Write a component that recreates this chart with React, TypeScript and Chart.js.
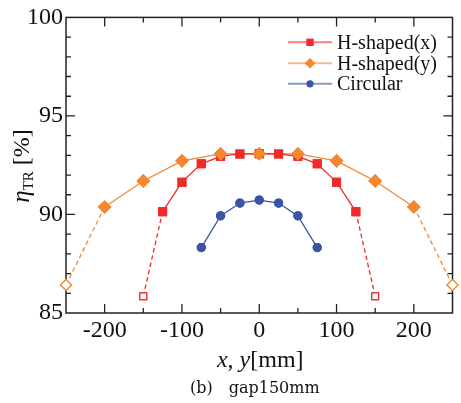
import React, { useEffect, useRef } from 'react';
import { Chart, registerables } from 'chart.js';

Chart.register(...registerables);

// ---- data ----
const hxX = [-150, -125, -100, -75, -50, -25, 0, 25, 50, 75, 100, 125, 150];
const hxY = [85.85, 90.14, 91.64, 92.57, 92.95, 93.07, 93.08, 93.07, 92.95, 92.57, 91.64, 90.14, 85.85];
const hyX = [-250, -200, -150, -100, -50, 0, 50, 100, 150, 200, 250];
const hyY = [86.42, 90.38, 91.7, 92.72, 93.07, 93.08, 93.07, 92.72, 91.7, 90.38, 86.42];
const ciX = [-75, -50, -25, 0, 25, 50, 75];
const ciY = [88.32, 89.93, 90.58, 90.73, 90.58, 89.93, 88.32];

const seriesLabels = ['H-shaped(x)', 'H-shaped(y)', 'Circular'];
const xMajorTicks = [-200, -100, 0, 100, 200];
const xMinorTicks = [-150, -50, 50, 150];
const yLabelTicks = [85, 90, 95, 100];
const yMajorTicks = [90, 95];
const yMinorTicks = [86, 87, 88, 89, 91, 92, 93, 94, 96, 97, 98, 99];

const RED = '#ee2a2b';
const ORANGE = '#f5872e';
const BLUE = '#3a55a6';
const SERIF = "'Liberation Serif', 'Times New Roman', serif";

function drawMarker(ctx: CanvasRenderingContext2D, style: string, x: number, y: number, r: number, color: string) {
  ctx.save();
  ctx.fillStyle = color;
  ctx.beginPath();
  if (style === 'rect') {
    const s = r * Math.SQRT1_2;
    ctx.rect(x - s, y - s, 2 * s, 2 * s);
  } else if (style === 'rectRot') {
    ctx.moveTo(x - r, y);
    ctx.lineTo(x, y - r);
    ctx.lineTo(x + r, y);
    ctx.lineTo(x, y + r);
    ctx.closePath();
  } else {
    ctx.arc(x, y, r, 0, Math.PI * 2);
  }
  ctx.fill();
  ctx.restore();
}

const framePlugin = {
  id: 'frameTicks',
  beforeDatasetsDraw(chart: any) {
    const { ctx, chartArea: a, scales } = chart;
    const xs = scales.x;
    const ys = scales.y;
    ctx.save();
    ctx.strokeStyle = '#222';
    ctx.lineWidth = 1.5;
    ctx.strokeRect(a.left, a.top, a.right - a.left, a.bottom - a.top);
    ctx.lineWidth = 1.3;
    ctx.beginPath();
    const xt = (v: number, len: number) => {
      const px = xs.getPixelForValue(v);
      ctx.moveTo(px, a.bottom);
      ctx.lineTo(px, a.bottom - len);
      ctx.moveTo(px, a.top);
      ctx.lineTo(px, a.top + len);
    };
    const yt = (v: number, len: number) => {
      const py = ys.getPixelForValue(v);
      ctx.moveTo(a.left, py);
      ctx.lineTo(a.left + len, py);
      ctx.moveTo(a.right, py);
      ctx.lineTo(a.right - len, py);
    };
    xMajorTicks.forEach((v) => xt(v, 9));
    xMinorTicks.forEach((v) => xt(v, 5));
    yMajorTicks.forEach((v) => yt(v, 9));
    yMinorTicks.forEach((v) => yt(v, 5));
    ctx.stroke();
    ctx.restore();
  },
  afterDatasetsDraw(chart: any) {
    // markers above all lines, later series on top
    const ctx = chart.ctx;
    for (let i = 0; i < chart.data.datasets.length; i++) {
      const meta = chart.getDatasetMeta(i);
      meta.data.forEach((el: any) => el.draw(ctx, undefined));
    }
  },
  afterDraw(chart: any) {
    const ctx: CanvasRenderingContext2D = chart.ctx;
    const a = chart.chartArea;
    ctx.save();
    // legend
    const rows = [42.3, 63.3, 83.8];
    const legendR = [5.2, 5.3, 3.6];
    chart.data.datasets.forEach((ds: any, i: number) => {
      const y = rows[i];
      ctx.save();
      ctx.globalAlpha = 0.6;
      ctx.strokeStyle = ds.borderColor;
      ctx.lineWidth = 2;
      ctx.beginPath();
      ctx.moveTo(288, y);
      ctx.lineTo(332, y);
      ctx.stroke();
      ctx.restore();
      drawMarker(ctx, ds.pointStyle, 310, y, legendR[i], ds.borderColor);
      ctx.fillStyle = '#111';
      ctx.font = `20px ${SERIF}`;
      ctx.textAlign = 'left';
      ctx.textBaseline = 'alphabetic';
      ctx.fillText(ds.label, 337, y + 6.5);
    });

    // x axis title: "x, y[mm]"
    const parts: [string, string][] = [
      ['x', 'italic'],
      [', ', 'normal'],
      ['y', 'italic'],
      ['[mm]', 'normal'],
    ];
    let total = 0;
    parts.forEach(([t, st]) => {
      ctx.font = `${st} 24px ${SERIF}`;
      total += ctx.measureText(t).width;
    });
    let x = (a.left + a.right) / 2 - total / 2 + 1;
    ctx.fillStyle = '#111';
    ctx.textBaseline = 'alphabetic';
    ctx.textAlign = 'left';
    parts.forEach(([t, st]) => {
      ctx.font = `${st} 24px ${SERIF}`;
      ctx.fillText(t, x, 367);
      x += ctx.measureText(t).width;
    });

    // y axis title: eta_TR [%]
    ctx.save();
    ctx.translate(28.5, 0);
    ctx.rotate(-Math.PI / 2);
    const yParts: [string, string, number][] = [
      ['\u03b7', 'italic 25px', 0],
      ['TR', 'normal 15px', 4],
      [' [%]', 'normal 24px', 0],
    ];
    let ytot = 0;
    yParts.forEach(([t, f]) => {
      ctx.font = `${f} ${SERIF}`;
      ytot += ctx.measureText(t).width;
    });
    let yy = -166 - ytot / 2;
    yParts.forEach(([t, f, dy]) => {
      ctx.font = `${f} ${SERIF}`;
      ctx.fillText(t, yy, dy);
      yy += ctx.measureText(t).width;
    });
    ctx.restore();

    // caption
    ctx.font = `16px 'DejaVu Serif', 'Noto Sans CJK JP', serif`;
    ctx.fillStyle = '#111';
    ctx.fillText('(b)\u3000gap150mm', 190, 392.5);
    ctx.restore();
  },
};

function makeSeries(label: string, xs: number[], ys: number[], color: string, style: string, r: number, hollowR: number, dashedEnds: boolean) {
  const last = xs.length - 1;
  const isEnd = (i: number) => dashedEnds && (i === 0 || i === last);
  return {
    label,
    data: xs.map((x, i) => ({ x, y: ys[i] })),
    borderColor: color,
    backgroundColor: color,
    borderWidth: 1.3,
    pointStyle: style,
    pointRadius: xs.map((_, i) => (isEnd(i) ? hollowR : r)),
    pointBackgroundColor: xs.map((_, i) => (isEnd(i) ? '#ffffff' : color)),
    pointBorderColor: color,
    pointBorderWidth: 1.2,
    tension: 0,
    clip: false,
    segment: {
      borderDash: (ctx: any) =>
        dashedEnds && (ctx.p0DataIndex === 0 || ctx.p1DataIndex === last) ? [4.5, 3] : undefined,
    },
  };
}

export default function App() {
  const ref = useRef<HTMLCanvasElement>(null);
  useEffect(() => {
    const canvas = ref.current;
    if (!canvas) return;
    const chart = new Chart(canvas, {
      type: 'line',
      data: {
        datasets: [
          makeSeries(seriesLabels[0], hxX, hxY, RED, 'rect', 5.5, 4.8, true),
          makeSeries(seriesLabels[1], hyX, hyY, ORANGE, 'rectRot', 6, 5.5, true),
          makeSeries(seriesLabels[2], ciX, ciY, BLUE, 'circle', 4, 4, false),
        ] as any,
      },
      options: {
        responsive: false,
        animation: false,
        events: [],
        layout: { padding: { left: 0, top: 16.5, right: 8.5, bottom: 0 } },
        plugins: { legend: { display: false }, tooltip: { enabled: false }, title: { display: false } },
        scales: {
          x: {
            type: 'linear',
            min: -250,
            max: 250,
            grid: { display: false, drawTicks: false },
            border: { display: false },
            afterBuildTicks: (s: any) => {
              s.ticks = xMajorTicks.map((v) => ({ value: v }));
            },
            ticks: {
              padding: 3,
              color: '#111',
              font: { family: SERIF, size: 24 },
              callback: (v: any) => String(v),
            },
            afterFit: (s: any) => {
              s.height = 90;
            },
          },
          y: {
            type: 'linear',
            min: 85,
            max: 100,
            grid: { display: false, drawTicks: false },
            border: { display: false },
            afterBuildTicks: (s: any) => {
              s.ticks = yLabelTicks.map((v) => ({ value: v }));
            },
            ticks: {
              padding: 3,
              color: '#111',
              font: { family: SERIF, size: 24 },
              callback: (v: any) => String(v),
            },
            afterFit: (s: any) => {
              s.width = 66;
            },
          },
        },
      } as any,
      plugins: [framePlugin],
    });
    return () => chart.destroy();
  }, []);
  return (
    <div style={{ position: 'fixed', left: 0, top: 0, width: 461, height: 403, background: '#fff' }}>
      <canvas ref={ref} width={461} height={403} style={{ display: 'block' }} />
    </div>
  );
}
